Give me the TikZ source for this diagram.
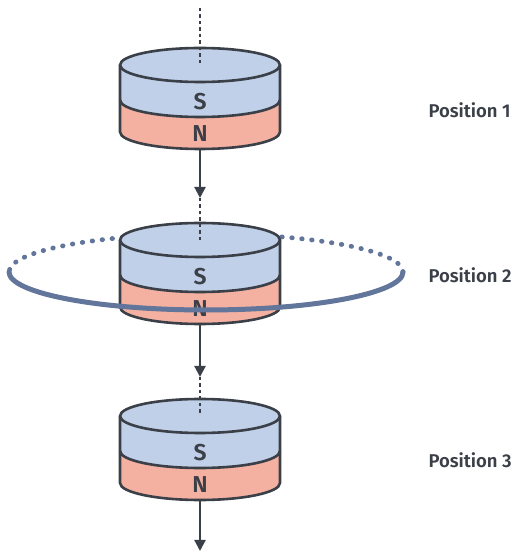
\documentclass[tikz,border=0pt]{standalone}
\usepackage{fontspec}
\setmainfont{Fira Sans}[BoldFont={Fira Sans SemiBold}]
\usetikzlibrary{arrows.meta}

\definecolor{southblue}{HTML}{BFD0E8}
\definecolor{northred}{HTML}{F4B1A1}
\definecolor{outline}{HTML}{3B4048}
\definecolor{coil}{HTML}{62759A}

\begin{document}
\begin{tikzpicture}[x=1pt, y=1pt, line join=round,
    rim/.style={draw=outline, line width=2.6pt},
    axis/.style={draw=outline, line width=2.2pt, dash pattern=on 3.5pt off 3pt},
    fall/.style={draw=outline, line width=2.2pt, -{Triangle[length=11pt, width=11pt]}},
    pole/.style={font=\bfseries\fontsize{23}{23}\selectfont, text=outline},
    caption/.style={font=\bfseries\fontsize{18.5}{18.5}\selectfont, text=outline, anchor=west}]
\useasboundingbox (0,0) rectangle (518,551);

% back half of the coil
\draw[coil, line width=4.8pt, line cap=round, dash pattern=on 0.5pt off 9.5pt]
    (403,279) arc (0:180:197 and 38);

% the three magnets
\foreach \i/\t in {1/486,2/311,3/135}
{
    \coordinate (top\i) at (200,\t);
    \coordinate (base\i) at (200,\t-84);
    % north layer
    \fill[northred] (120,\t-35) -- (120,\t-67) arc (180:360:80 and 17)
        -- (280,\t-35) arc (0:-180:80 and 17) -- cycle;
    % south layer
    \fill[southblue] (120,\t) -- (120,\t-35) arc (180:360:80 and 17)
        -- (280,\t) arc (0:180:80 and 17) -- cycle;
    \draw[rim] (120,\t) -- (120,\t-67) arc (180:360:80 and 17) -- (280,\t);
    \draw[rim] (120,\t-35) arc (180:360:80 and 17);
    \draw[rim, fill=southblue] (200,\t) ellipse (80 and 17);
    \node[pole] (s\i) at (200,\t-37) {S};
    \node[pole] (n\i) at (200,\t-69) {N};
}

% front half of the coil
\draw[coil, line width=5pt, line cap=round] (9,279) arc (180:360:197 and 38);

% path of the fall
\coordinate (start) at (200,543);
\coordinate (tip1) at (200,353);
\coordinate (tip2) at (200,174);
\coordinate (tip3) at (200,0);
\draw[axis] (start) -- (top1);
\draw[fall] (base1) -- (tip1);
\draw[axis] (tip1) -- (top2);
\draw[fall] (base2) -- (tip2);
\draw[axis] (tip2) -- (top3);
\draw[fall] (base3) -- (tip3);

\node[caption] (pos1) at (425,441) {Position 1};
\node[caption] (pos2) at (425,276) {Position 2};
\node[caption] (pos3) at (425,91) {Position 3};
\end{tikzpicture}
\end{document}
